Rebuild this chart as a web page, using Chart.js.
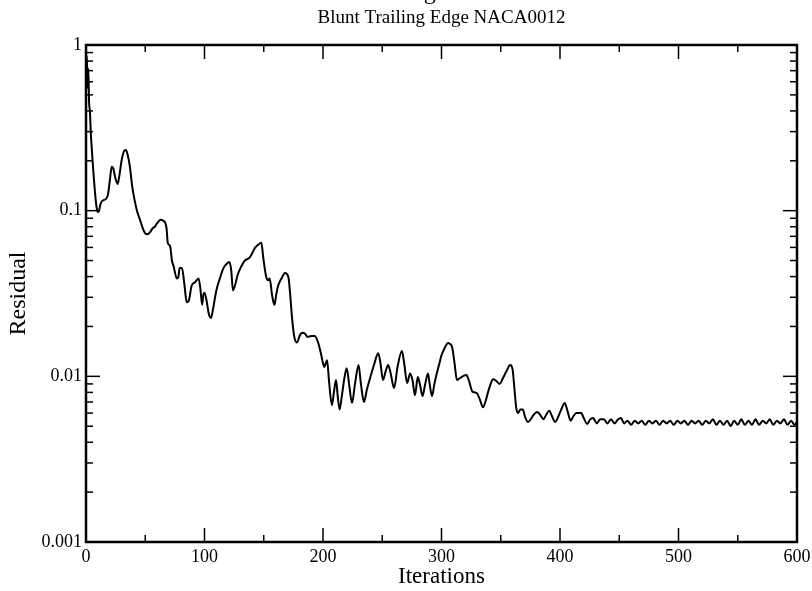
<!DOCTYPE html>
<html>
<head>
<meta charset="utf-8">
<script src="https://cdn.jsdelivr.net/npm/chart.js@4.4.1/dist/chart.umd.min.js"></script>
<style>
  html, body { margin: 0; background: #fff; }
  #wrap { width: 812px; height: 591px; position: relative; }
</style>
</head>
<body>
<div id="wrap"><canvas id="chart"></canvas></div>
<script>
// values
const iterations = [
  0, 0.7, 1.3, 2, 2.6, 3.3, 4, 5, 6, 7, 8, 9, 10, 11, 12, 13, 15, 17, 18.5, 20,
  21.7, 23, 25, 26.7, 28, 30, 32, 33.5, 35, 37, 39, 41, 43, 45.6, 48, 50, 52, 54, 56, 58,
  60, 63, 65, 67, 68, 69, 71, 72.5, 74, 76.6, 78, 79, 81, 83, 85, 87, 89, 92, 95, 96.5,
  98, 99, 100, 102, 103.5, 105.5, 107, 110, 113, 116, 119, 121, 122.5, 124, 126, 128, 131, 134, 136, 138,
  140, 142.6, 145, 148, 149.5, 151, 152, 153.5, 155, 157, 159, 160.5, 162, 165, 168, 170, 171, 172.5, 174, 176,
  178, 180.6, 183, 185, 187, 190, 193, 196, 198, 200, 201, 203.5, 205, 207.5, 209, 211, 212.5, 214, 216, 218,
  220, 222, 224.5, 227, 230, 232, 234.6, 237, 240, 243, 246.6, 248.5, 250.6, 253, 255, 257, 260, 263, 266.6, 268.5,
  271, 273.5, 275.5, 277.6, 280, 282, 284, 286, 288.6, 290, 292, 294, 296, 298, 300, 303, 305.5, 307, 309, 311,
  313, 315, 317, 319, 321, 323, 326, 328, 330, 332.5, 335, 337, 339, 341, 343.6, 346, 349, 352, 355, 358,
  360, 361.5, 363, 364.6, 366.5, 368.6, 370.5, 373, 376, 378, 380.6, 383, 386, 388, 391, 393, 396, 398, 401, 404,
  406, 409, 411, 414, 418, 420, 423, 425.5, 428, 431, 434, 437, 440, 443, 446, 449, 451.5, 454, 457, 460,
  463, 466, 469, 472, 475, 478, 481, 484, 487, 490, 493, 496, 499, 502, 505, 508, 511, 514, 517, 520,
  523, 526, 529, 532, 535, 538, 541, 544, 547, 550, 553, 556, 559, 562, 565, 568, 571, 574, 577, 580,
  583, 586, 589, 592, 595, 598, 600
];
const residual = [
  0.7, 0.86, 0.55, 0.72, 0.45, 0.4, 0.3, 0.23, 0.18, 0.145, 0.12, 0.104, 0.098, 0.1, 0.108, 0.113, 0.116, 0.118, 0.125, 0.15,
  0.184, 0.18, 0.155, 0.145, 0.16, 0.2, 0.228, 0.232, 0.22, 0.185, 0.14, 0.116, 0.1, 0.088, 0.078, 0.073, 0.072, 0.074, 0.078, 0.08,
  0.084, 0.088, 0.087, 0.084, 0.078, 0.064, 0.061, 0.05, 0.046, 0.039, 0.04, 0.045, 0.045, 0.036, 0.028, 0.029, 0.035, 0.037, 0.039, 0.034,
  0.027, 0.031, 0.032, 0.028, 0.024, 0.0225, 0.025, 0.033, 0.039, 0.045, 0.048, 0.049, 0.044, 0.033, 0.036, 0.041, 0.046, 0.05, 0.051, 0.052,
  0.055, 0.0596, 0.062, 0.064, 0.0526, 0.044, 0.04, 0.038, 0.039, 0.031, 0.027, 0.031, 0.035, 0.039, 0.042, 0.041, 0.039, 0.03, 0.022, 0.017,
  0.016, 0.0178, 0.0183, 0.018, 0.0173, 0.0175, 0.0175, 0.0159, 0.014, 0.012, 0.0114, 0.0125, 0.0095, 0.0067, 0.0078, 0.0095, 0.0075, 0.0063, 0.0077, 0.0097,
  0.0112, 0.009, 0.0069, 0.009, 0.0117, 0.009, 0.007, 0.0083, 0.0099, 0.0117, 0.0138, 0.012, 0.0095, 0.0108, 0.0117, 0.0105, 0.0085, 0.0115, 0.0142, 0.012,
  0.0091, 0.0104, 0.0095, 0.0077, 0.0099, 0.0088, 0.0076, 0.0088, 0.0104, 0.009, 0.0076, 0.009, 0.0104, 0.0118, 0.0134, 0.015, 0.0159, 0.0157, 0.015, 0.012,
  0.0095, 0.0097, 0.0099, 0.0101, 0.0102, 0.0095, 0.0081, 0.008, 0.0079, 0.0072, 0.0065, 0.007, 0.0079, 0.0088, 0.0096, 0.0094, 0.009, 0.0098, 0.0108, 0.0117,
  0.011, 0.0085, 0.0065, 0.006, 0.0063, 0.0063, 0.0057, 0.0053, 0.0056, 0.0059, 0.0061, 0.0059, 0.0055, 0.0058, 0.0062, 0.0058, 0.0053, 0.0056, 0.0063, 0.0069,
  0.0063, 0.0054, 0.0057, 0.006, 0.006, 0.0056, 0.00516, 0.0055, 0.0056, 0.0052, 0.0055, 0.0055, 0.0052, 0.0055, 0.0052, 0.0055, 0.0056, 0.0052, 0.0054, 0.0051,
  0.0054, 0.0052, 0.0054, 0.0051, 0.0054, 0.0052, 0.0054, 0.0051, 0.0054, 0.0052, 0.0054, 0.0051, 0.0054, 0.0052, 0.0054, 0.0051, 0.0054, 0.0052, 0.0054, 0.0051,
  0.0054, 0.0052, 0.0055, 0.0051, 0.0054, 0.0051, 0.0054, 0.005, 0.0054, 0.0051, 0.0055, 0.0051, 0.0054, 0.0051, 0.0055, 0.0051, 0.0054, 0.0052, 0.0055, 0.0051,
  0.0054, 0.0052, 0.0055, 0.0051, 0.0054, 0.0051, 0.0053
];

const xMajorTicks = [0, 100, 200, 300, 400, 500, 600];
const xMinorTicks = [50, 150, 250, 350, 450, 550];
const yMajorTicks = [0.001, 0.01, 0.1, 1];
const yTickLabels = ['0.001', '0.01', '0.1', '1'];
const yMinorTicks = [
  0.002, 0.003, 0.004, 0.005, 0.006, 0.007, 0.008, 0.009,
  0.02, 0.03, 0.04, 0.05, 0.06, 0.07, 0.08, 0.09,
  0.2, 0.3, 0.4, 0.5, 0.6, 0.7, 0.8, 0.9
];

const serif = "'Liberation Serif', 'DejaVu Serif', serif";

// xmgrace style box: frame + inward ticks on all four sides, titles centred on the plot
const frameTicks = {
  id: 'frameTicks',
  afterDraw(chart) {
    const { ctx, chartArea: { left, right, top, bottom }, scales: { x, y } } = chart;
    ctx.save();
    ctx.strokeStyle = '#000';
    ctx.lineWidth = 1.5;
    const tick = (x1, y1, x2, y2) => { ctx.beginPath(); ctx.moveTo(x1, y1); ctx.lineTo(x2, y2); ctx.stroke(); };
    xMajorTicks.forEach(v => { const p = x.getPixelForValue(v); tick(p, bottom, p, bottom - 14); tick(p, top, p, top + 14); });
    xMinorTicks.forEach(v => { const p = x.getPixelForValue(v); tick(p, bottom, p, bottom - 7); tick(p, top, p, top + 7); });
    yMajorTicks.forEach(v => { const p = y.getPixelForValue(v); tick(left, p, left + 14, p); tick(right, p, right - 14, p); });
    yMinorTicks.forEach(v => { const p = y.getPixelForValue(v); tick(left, p, left + 7, p); tick(right, p, right - 7, p); });
    ctx.lineWidth = 2.5;
    ctx.strokeRect(left, top, right - left, bottom - top);

    const cx = (left + right) / 2;
    ctx.fillStyle = '#000';
    ctx.textAlign = 'center';
    ctx.textBaseline = 'alphabetic';
    // main title sits mostly above the visible area
    ctx.font = '24px ' + serif;
    ctx.fillText('Convergence Rate', cx, -1);
    ctx.font = '19px ' + serif;
    ctx.fillText('Blunt Trailing Edge NACA0012', cx, 23);
    ctx.restore();
  }
};

new Chart(document.getElementById('chart'), {
  type: 'line',
  data: {
    datasets: [{
      data: iterations.map((it, i) => ({ x: it, y: residual[i] })),
      borderColor: '#000',
      borderWidth: 2,
      pointRadius: 0,
      cubicInterpolationMode: 'monotone'
    }]
  },
  options: {
    responsive: true,
    maintainAspectRatio: false,
    animation: false,
    devicePixelRatio: 1,
    layout: { padding: { top: 45, right: 15, left: 0, bottom: 0 } },
    plugins: {
      legend: { display: false },
      tooltip: { enabled: false }
    },
    scales: {
      x: {
        type: 'linear',
        min: 0,
        max: 600,
        afterBuildTicks: s => { s.ticks = xMajorTicks.map(v => ({ value: v })); },
        afterFit: s => { s.height = 49; s.paddingLeft = 0; s.paddingRight = 0; },
        ticks: { color: '#000', font: { family: serif, size: 18 }, padding: 4, maxRotation: 0, autoSkip: false },
        grid: { display: false, drawTicks: false },
        border: { display: false },
        title: { display: true, text: 'Iterations', color: '#000', font: { family: serif, size: 23 }, padding: { top: 0, bottom: 0 } }
      },
      y: {
        type: 'logarithmic',
        min: 0.001,
        max: 1,
        afterBuildTicks: s => { s.ticks = yMajorTicks.map(v => ({ value: v })); },
        afterFit: s => { s.width = 86; s.paddingTop = 0; s.paddingBottom = 0; },
        ticks: {
          color: '#000',
          font: { family: serif, size: 18 },
          padding: 4,
          autoSkip: false,
          callback: (v, i) => yTickLabels[i]
        },
        grid: { display: false, drawTicks: false },
        border: { display: false },
        title: { display: true, text: 'Residual', color: '#000', font: { family: serif, size: 24 }, padding: { top: 4, bottom: 0 } }
      }
    }
  },
  plugins: [frameTicks]
});
</script>
</body>
</html>
